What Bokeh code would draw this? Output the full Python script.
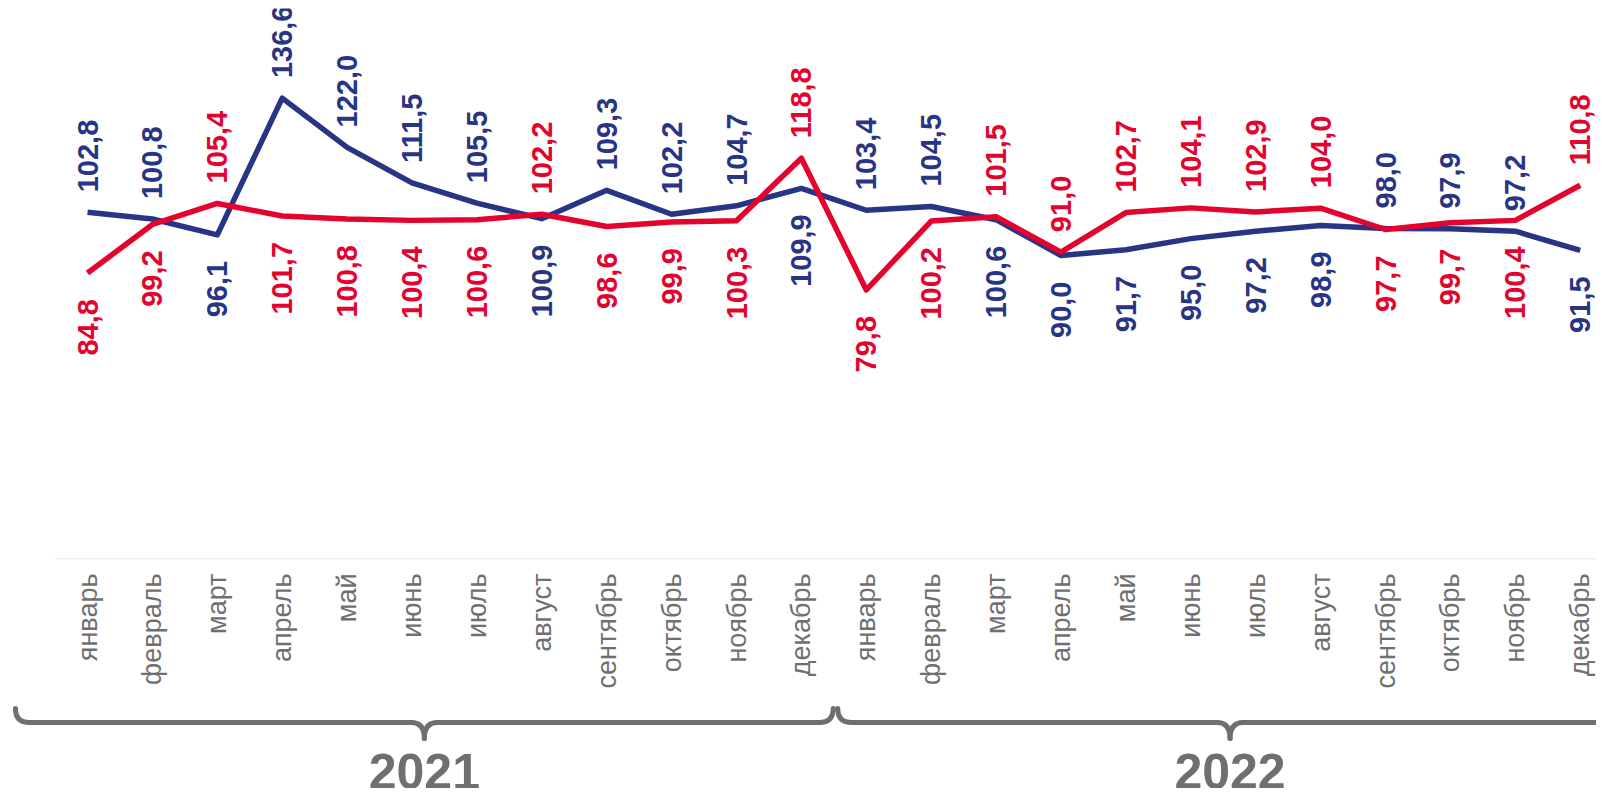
import math
from bokeh.plotting import figure
from bokeh.layouts import column
from bokeh.models import Range1d, FixedTicker, ColumnDataSource
from bokeh.core.properties import value
from bokeh.embed import file_html
from bokeh.resources import INLINE

# ---------------- data ----------------
months = ["январь", "февраль", "март", "апрель", "май", "июнь", "июль",
          "август", "сентябрь", "октябрь", "ноябрь", "декабрь",
          "январь", "февраль", "март", "апрель", "май", "июнь", "июль",
          "август", "сентябрь", "октябрь", "ноябрь", "декабрь"]
years = ["2021", "2022"]
series_blue = [102.8, 100.8, 96.1, 136.6, 122.0, 111.5, 105.5, 100.9, 109.3, 102.2, 104.7, 109.9,
               103.4, 104.5, 100.6, 90.0, 91.7, 95.0, 97.2, 98.9, 98.0, 97.9, 97.2, 91.5]
series_red = [84.8, 99.2, 105.4, 101.7, 100.8, 100.4, 100.6, 102.2, 98.6, 99.9, 100.3, 118.8,
              79.8, 100.2, 101.5, 91.0, 102.7, 104.1, 102.9, 104.0, 97.7, 99.7, 100.4, 110.8]
# which series carries its label above the line at each month (1 = blue above, red below)
blue_label_above = [1, 1, 0, 1, 1, 1, 1, 0, 1, 1, 1, 0,
                    1, 1, 0, 0, 0, 0, 0, 0, 1, 1, 1, 0]

# ---------------- style / layout ----------------
BLUE = "#283584"
RED = "#E3032D"
GREY = "#6F6F6F"
FONT = "Liberation Sans"
FIG_W = 1596
PX_PER_CAT = 64.9
FIRST_CAT_PX = 87.0
PAGE_LEFT = 0.0
TOP_PAD = 8
FRAME_H = 553
AXIS_H = 130
Y_TOP = FRAME_H / 3.39
BRACE_H = 97

n = len(months)
xs = list(range(n))
x_start = (PAGE_LEFT - FIRST_CAT_PX) / PX_PER_CAT
x_range = Range1d(x_start, x_start + FIG_W / PX_PER_CAT)

p = figure(width=FIG_W, height=TOP_PAD + FRAME_H + AXIS_H, x_range=x_range,
           y_range=Range1d(0, Y_TOP), output_backend="svg", toolbar_location=None,
           y_axis_location=None, min_border_left=0, min_border_right=0,
           min_border_top=TOP_PAD, min_border_bottom=AXIS_H)
p.outline_line_color = None
p.grid.visible = False
p.background_fill_color = "white"
p.border_fill_color = "white"

# faint baseline
p.segment(x0=[xs[0] - 0.5], y0=[0], x1=[xs[-1] + 0.5], y1=[0],
          line_color="#EDEDED", line_width=3)

p.line(xs, series_blue, line_color=BLUE, line_width=5.5, line_join="round")
p.line(xs, series_red, line_color=RED, line_width=5.5, line_join="round")


def fmt(v):
    return f"{v:.1f}".replace(".", ",")


for vals, color, above_flag in ((series_blue, BLUE, 1), (series_red, RED, 0)):
    up = dict(x=[], y=[], t=[])
    dn = dict(x=[], y=[], t=[])
    for i, v in enumerate(vals):
        d = up if blue_label_above[i] == above_flag else dn
        d["x"].append(xs[i])
        d["y"].append(v)
        d["t"].append(fmt(v))
    p.text(x="x", y="y", text="t", source=ColumnDataSource(up), angle=math.pi / 2,
           text_align="left", text_baseline="middle", y_offset=-20,
           text_font=value(FONT), text_font_style="bold", text_font_size="29px",
           text_color=color)
    p.text(x="x", y="y", text="t", source=ColumnDataSource(dn), angle=math.pi / 2,
           text_align="right", text_baseline="middle", y_offset=26,
           text_font=value(FONT), text_font_style="bold", text_font_size="29px",
           text_color=color)

ax = p.xaxis[0]
ax.ticker = FixedTicker(ticks=xs)
ax.major_label_overrides = {i: m for i, m in enumerate(months)}
ax.major_label_orientation = math.pi / 2
ax.major_label_text_font = FONT
ax.major_label_text_font_size = "27px"
ax.major_label_text_color = GREY
ax.major_label_standoff = 8
ax.major_tick_line_color = None
ax.minor_tick_line_color = None
ax.axis_line_color = None

# ---------------- braces with years ----------------
q = figure(width=FIG_W, height=BRACE_H, x_range=x_range, y_range=Range1d(0, BRACE_H),
           output_backend="svg", toolbar_location=None, x_axis_location=None,
           y_axis_location=None, min_border_left=0, min_border_right=0,
           min_border_top=0, min_border_bottom=0)
q.outline_line_color = None
q.grid.visible = False

brace_spans = [(-1.11, 11.49), (11.56, 23.65)]
Y_H, Y_END, Y_TIP = 66, 80, 50
RX = 14 / PX_PER_CAT
RT = 13 / PX_PER_CAT
qd = dict(x0=[], y0=[], x1=[], y1=[], cx=[], cy=[])
sd = dict(x0=[], y0=[], x1=[], y1=[])
centers = []
for a, b in brace_spans:
    c = (a + b) / 2
    centers.append(c)
    for (x0, y0, x1, y1, cx, cy) in [
        (a, Y_END, a + RX, Y_H, a, Y_H),
        (c - RT, Y_H, c, Y_TIP, c, Y_H),
        (c, Y_TIP, c + RT, Y_H, c, Y_H),
        (b - RX, Y_H, b, Y_END, b, Y_H),
    ]:
        for k, v in zip(("x0", "y0", "x1", "y1", "cx", "cy"), (x0, y0, x1, y1, cx, cy)):
            qd[k].append(v)
    for (x0, x1) in [(a + RX, c - RT), (c + RT, b - RX)]:
        sd["x0"].append(x0); sd["x1"].append(x1)
        sd["y0"].append(Y_H); sd["y1"].append(Y_H)

q.quadratic(x0="x0", y0="y0", x1="x1", y1="y1", cx="cx", cy="cy",
            source=ColumnDataSource(qd), line_color=GREY, line_width=5, line_cap="round")
q.segment(x0="x0", y0="y0", x1="x1", y1="y1", source=ColumnDataSource(sd),
          line_color=GREY, line_width=5, line_cap="round")
q.text(x=centers, y=[17, 17], text=years, text_align="center", text_baseline="middle",
       text_font=value(FONT), text_font_style="bold", text_font_size="50px",
       text_color=GREY)

layout = column(p, q, spacing=0)
open("out.html", "w").write(file_html(layout, INLINE))
